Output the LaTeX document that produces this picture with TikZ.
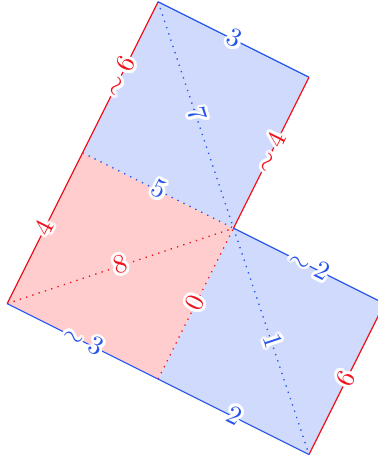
\documentclass[tikz,border=0pt]{standalone}
\usepackage{contour}
\contourlength{1.1pt}
\definecolor{eblue}{RGB}{40,85,235}
\definecolor{fblue}{RGB}{208,218,252}
\definecolor{fred}{RGB}{255,205,205}
\definecolor{ered}{RGB}{240,20,30}
\tikzset{
  bedge/.style={eblue, line width=0.45pt},
  redge/.style={ered, line width=0.45pt},
  bdiag/.style={eblue, dotted, line width=0.5pt},
  rdiag/.style={ered, dotted, line width=0.5pt},
  blab/.style={midway, sloped, text=eblue, inner sep=0pt},
  rlab/.style={midway, sloped, text=ered, inner sep=0pt}
}
\newcommand{\hl}[1]{\contour{white}{#1}}
\begin{document}
\begin{tikzpicture}
\useasboundingbox (-3.095,-3.059) rectangle (1.902,3.024);
\coordinate (C) at (0,0);
\coordinate (H) at (-2,1);
\coordinate (A) at (-1,3);
\coordinate (B) at (1,2);
\coordinate (G) at (-3,-1);
\coordinate (F) at (-1,-2);
\coordinate (D) at (2,-1);
\coordinate (E) at (1,-3);
% fills
\fill[fblue] (A) -- (B) -- (C) -- (H) -- cycle;
\fill[fblue] (C) -- (D) -- (E) -- (F) -- cycle;
\fill[fred] (H) -- (C) -- (F) -- (G) -- cycle;
% diagonals
\draw[bdiag] (A) -- (C) node[blab] {\hl{$7$}};
\draw[bdiag] (H) -- (C) node[blab] {\hl{$5$}};
\draw[rdiag] (G) -- (C) node[rlab] {\hl{$8$}};
\draw[rdiag] (F) -- (C) node[rlab] {\hl{$0$}};
\draw[bdiag] (C) -- (E) node[blab] {\hl{$1$}};
% edges
\draw[redge] (H) -- (A) node[rlab] {\hl{$\sim6$}};
\draw[bedge] (A) -- (B) node[blab] {\hl{$3$}};
\draw[redge] (C) -- (B) node[rlab] {\hl{$\sim4$}};
\draw[redge] (G) -- (H) node[rlab] {\hl{$4$}};
\draw[bedge] (G) -- (F) node[blab] {\hl{$\sim3$}};
\draw[bedge] (C) -- (D) node[blab] {\hl{$\sim2$}};
\draw[redge] (E) -- (D) node[rlab] {\hl{$6$}};
\draw[bedge] (F) -- (E) node[blab] {\hl{$2$}};
\end{tikzpicture}
\end{document}
